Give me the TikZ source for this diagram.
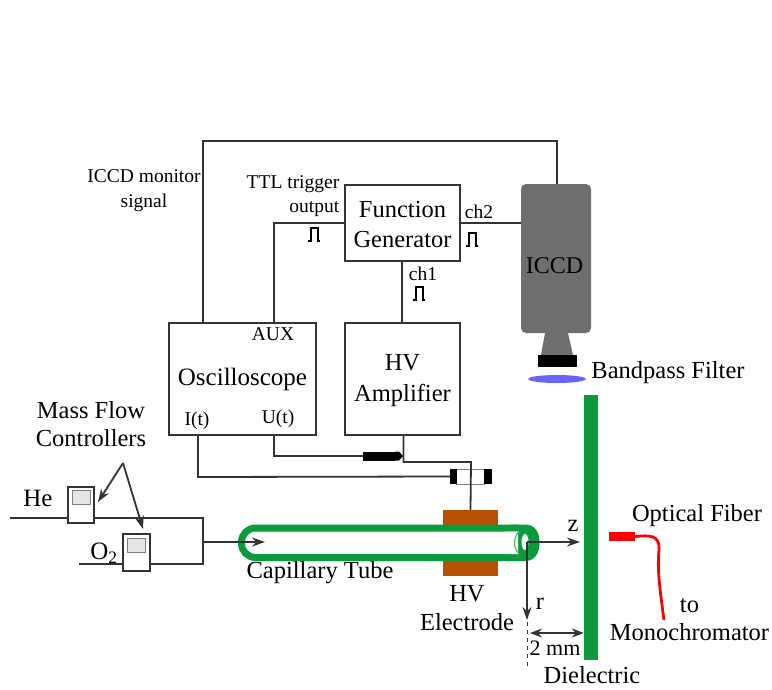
\documentclass[tikz,border=0pt]{standalone}
\usepackage{fontspec}
\setmainfont{Liberation Serif}
\usetikzlibrary{arrows.meta}
\definecolor{ink}{HTML}{333333}
\definecolor{tubegreen}{HTML}{0B9A3C}
\definecolor{elec}{HTML}{B85000}
\definecolor{cam}{HTML}{6E6E6E}
\definecolor{blueoval}{HTML}{6666FF}
\tikzset{
  wire/.style={draw=ink,line width=1.8pt},
  arw/.style={wire,-{Stealth[length=13pt,width=9pt]}},
  box/.style={draw=ink,line width=1.8pt,fill=white,inner sep=0pt,align=center,text=black},
  lab/.style={inner sep=0pt,text=black,align=center},
  big/.style={lab,font=\fontsize{25}{29}\selectfont},
  mid/.style={lab,font=\fontsize{24.5}{28.5}\selectfont},
  small/.style={lab,font=\fontsize{19.5}{24.5}\selectfont},
  pulse/.pic={\draw[line width=2pt,draw=black] (-6,7)--(-3.5,7)--(-3.5,-6.5)--(3.5,-6.5)--(3.5,7)--(6,7);},
  mfc/.style={draw=ink,line width=1.8pt,fill=white,inner sep=0pt},
  screen/.style={draw=gray,line width=1pt,fill=black!10,inner sep=0pt},
}
\begin{document}
\begin{tikzpicture}[x=1pt,y=-1pt]
\useasboundingbox (0,0) rectangle (772,689);
% boxes
\node[box,minimum width=115pt,minimum height=76pt] (fg) at (402.5,223) {};
\node[lab,font=\fontsize{24.5}{29.5}\selectfont] at (402.5,224.5) {Function\\Generator};
\node[box,minimum width=147pt,minimum height=112pt,font=\fontsize{25}{30}\selectfont] (osc) at (242.5,379) {Oscilloscope};
\node[box,minimum width=115pt,minimum height=112pt] (hv) at (402.5,379) {};
\node[lab,font=\fontsize{24.5}{31}\selectfont] at (402.5,380.5) {HV\\Amplifier};
\node[draw=none,fill=cam,rounded corners=5pt,minimum width=70pt,minimum height=149pt,inner sep=0pt,font=\fontsize{24}{29}\selectfont] (iccd) at (556,258.5) {};
\node[lab,font=\fontsize{24}{29}\selectfont] at (554.5,266) {ICCD};
\fill[cam] (545,333)--(568,333)--(573,355)--(541,355)--cycle;
\node[fill=black,minimum width=39pt,minimum height=12pt,inner sep=0pt] (filt) at (557.5,361) {};
\node[fill=blueoval,draw=none,shape=circle,inner sep=0pt,minimum size=8pt,xscale=7.2] (oval) at (557,379) {};
% connectors
\coordinate (auxpt) at (274,323);
\coordinate (monpt) at (203,323);
\coordinate (iccdtop) at (557,184);
\draw[wire] (monpt)--(203,141)--(557,141)--(iccdtop);
\draw[wire] (fg.west)-|(auxpt);
\draw[wire] (fg.east)--(iccd.west|-fg.east);
\draw[wire] ([xshift=-.6pt]fg.south)--([xshift=-.6pt]hv.north);
% pulses
\pic at (314,234) {pulse};
\pic at (472,239) {pulse};
\pic at (419,293) {pulse};
% dielectric
\node[fill=tubegreen,minimum width=14pt,minimum height=265pt,inner sep=0pt] (plate) at (591,527.5) {};
% electrode
\node[fill=elec,minimum width=55pt,minimum height=18pt,inner sep=0pt] (elT) at (470.5,519) {};
\node[fill=elec,minimum width=55pt,minimum height=20pt,inner sep=0pt] (elB) at (470.5,566) {};
% tube
\fill[tubegreen] (510,524.5)--(525,524.5) .. controls (535,524.5) and (539.5,532) .. (539.5,542.5) .. controls (539.5,553) and (535,561) .. (525,561)--(510,561)--cycle;
\draw[tubegreen,line width=7pt,rounded corners=14pt,fill=white] (518,528)--(241.5,528)--(241.5,557.5)--(518,557.5);
\fill[white] (519,531.5) .. controls (513,538) and (513,548) .. (519,554)--(505,554)--(505,531.5)--cycle;
\draw[tubegreen!70,line width=1.2pt] (519,531.5) .. controls (513,538) and (513,548) .. (519,554);
\fill[white] (525,542) ellipse (3.5 and 8);
% HV and scope wiring
\coordinate (ut) at (274,435);
\coordinate (it) at (198,435);
\node[fill=black,minimum width=32pt,minimum height=9pt,inner sep=0pt] (conn) at (379,456) {};
\fill[black] (395,451.5)--(399,451.5)--(403,456)--(399,460.5)--(395,460.5)--cycle;
\coordinate (hvout) at (403.5,435);
\node[minimum width=35pt,minimum height=15pt,inner sep=0pt] (probe) at (471,476.5) {};
\draw[gray,line width=.9pt] (456,469.5)--(485,469.5) (456,484)--(485,484);
\node[fill=black,minimum width=7pt,minimum height=15pt,inner sep=0pt] (pl) at (453.5,476.5) {};
\node[fill=black,minimum width=8pt,minimum height=15pt,inner sep=0pt] (pr) at (488,476.5) {};
\draw[wire] (ut)--(274,456)--(conn.west);
\draw[wire] (hvout)--(403.5,462)--(471,462)--(elT.north);
\draw[wire] (it)--(198,477)--(pl.west);
% gas
\node[mfc,minimum width=26pt,minimum height=36pt] (he) at (81,505) {};
\node[screen,minimum width=18pt,minimum height=14pt] at (81,497.5) {};
\node[mfc,minimum width=27pt,minimum height=37pt] (o2) at (136.5,552.5) {};
\node[screen,minimum width=18pt,minimum height=14pt] at (136.5,545.5) {};
\coordinate (hein) at (10,518);
\coordinate (o2in) at (79,564);
\coordinate (join) at (203,542);
\coordinate (tubetip) at (265,542);
\draw[wire] (hein)--(he.west|-hein);
\draw[wire] (he.east|-hein)--(203,518)--(203,564)--(o2.east|-o2in);
\draw[wire] (o2in)--(o2.west|-o2in);
\draw[arw] (join)--(tubetip);
\coordinate (mfcapex) at (123,463);
\draw[arw] (mfcapex)--(98,502);
\draw[arw] (mfcapex)--(143,529);
% z r
\coordinate (origin) at (527,542);
\draw[arw] (origin)--(580,542);
\draw[arw] (origin)--(527,620);
\draw[ink,line width=1pt,dash pattern=on 4pt off 4pt] (527,622)--(527,666);
\coordinate (gapl) at (530,633);
\draw[wire,{Stealth[length=12pt,width=9pt]}-{Stealth[length=12pt,width=9pt]}] (gapl)--(plate.west|-gapl);
% fibre
\node[fill=red,minimum width=26pt,minimum height=9pt,inner sep=0pt] (fib) at (622,536.5) {};
\draw[red,line width=2.8pt] (fib.east) .. controls (650,535) and (660,535) .. (659,550) .. controls (657,570) and (660,590) .. (664,620);
% labels
\node[small] at (144,190.5) {ICCD monitor\\signal};
\node[small,align=right,anchor=east] at (339.5,196) {TTL trigger\\output};
\node[small] at (479,212) {ch2};
\node[small] at (423,274) {ch1};
\node[small] at (273,334) {AUX};
\node[small] at (197,421) {I(t)};
\node[small] at (278,419) {U(t)};
\node[mid] at (91,424) {Mass Flow\\Controllers};
\node[big] at (38,498) {He};
\node[big] at (104,553) {O\textsubscript{2}};
\node[mid] at (320,573) {Capillary Tube};
\node[mid] at (467,608) {HV\\Electrode};
\node[mid] at (573,526) {z};
\node[mid] at (540,604) {r};
\node[lab,font=\fontsize{22}{26}\selectfont] at (555,648) {2 mm};
\node[mid] at (592,675.5) {Dielectric};
\node[mid] at (697,516) {Optical Fiber};
\node[mid] at (689.5,619.5) {to\\Monochromator};
\node[mid] at (668,372.5) {Bandpass Filter};
\end{tikzpicture}
\end{document}
